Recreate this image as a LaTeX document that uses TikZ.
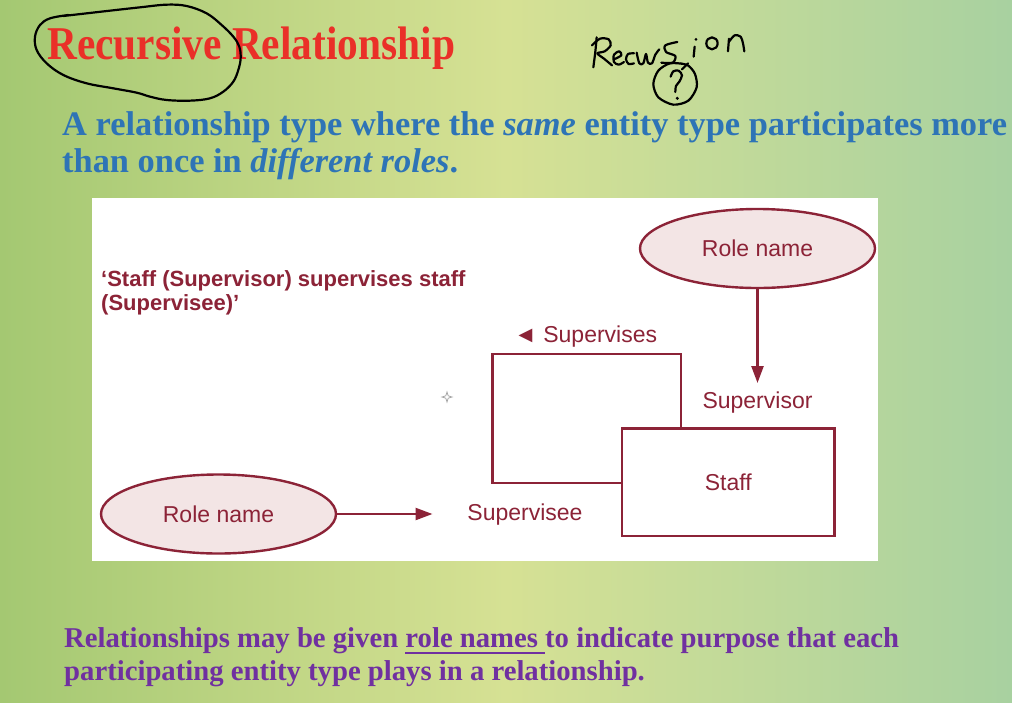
\documentclass[tikz,border=0pt]{standalone}
\usepackage{fontspec}
\setmainfont{Liberation Serif}
\newfontfamily\titlefont[FakeStretch=0.88]{Liberation Serif}
\newfontfamily\diagfont{Liberation Sans}
\usetikzlibrary{arrows.meta,shapes.geometric}

\definecolor{bgleft}{RGB}{164,200,114}
\definecolor{bgmid}{RGB}{214,225,148}
\definecolor{bgright}{RGB}{168,209,160}
\definecolor{titlered}{RGB}{234,48,40}
\definecolor{bodyblue}{RGB}{46,116,182}
\definecolor{notepurple}{RGB}{112,48,160}
\definecolor{erdred}{RGB}{140,35,55}
\definecolor{rolefill}{RGB}{243,229,229}

% underline drawn as a rule under the word box
\newcommand{\rolesline}[1]{\setbox0\hbox{#1}\rlap{\rule[-6.5pt]{\wd0}{2pt}}\box0}

\tikzset{
  txt/.style={inner sep=0pt, anchor=base west},
  ctxt/.style={inner sep=0pt, anchor=base, text=erdred, font=\diagfont\fontsize{23}{26}\selectfont},
  link/.style={draw=erdred, line width=2.4pt},
  flow/.style={link, -{Triangle[length=17pt,width=12pt]}},
  rolename/.style={ellipse, draw=erdred, fill=rolefill, line width=2.4pt, inner sep=0pt,
    minimum width=235pt, minimum height=79pt, text=erdred, font=\diagfont\fontsize{23}{26}\selectfont},
  entity/.style={rectangle, draw=erdred, fill=white, line width=2.4pt, inner sep=0pt,
    minimum width=212.6pt, minimum height=107.4pt, text=erdred, font=\diagfont\fontsize{23}{26}\selectfont},
  ink/.style={draw=black, line width=2.2pt, line cap=round, line join=round},
}

\begin{document}
\begin{tikzpicture}[x=1pt,y=-1pt]
\useasboundingbox (0,0) rectangle (1012,702);
% slide background
\shade[left color=bgleft, right color=bgright, middle color=bgmid] (0,0) rectangle (1012,702);

% title and definition
\node[txt, text=titlered, font={\titlefont\bfseries\fontsize{47}{50}\selectfont}] (title) at (47,59) {Recursive Relationship};
\node[txt, text=bodyblue, font={\bfseries\fontsize{34.4}{37}\selectfont}] (defA) at (62,135)
  {A relationship type where the \textit{same} entity type participates more};
\node[txt, text=bodyblue, font={\bfseries\fontsize{34.4}{37}\selectfont}] (defB) at (62,172)
  {than once in \textit{different roles}.};

% closing note
\node[txt, text=notepurple, font={\bfseries\fontsize{28.7}{32}\selectfont}] (noteA) at (64,647)
  {Relationships may be given \rolesline{role names~}to indicate purpose that each};
\node[txt, text=notepurple, font={\bfseries\fontsize{28.7}{32}\selectfont}] (noteB) at (64,680)
  {participating entity type plays in a relationship.};

% diagram panel
\fill[white] (92,198) rectangle (878,561);

\node[txt, text=erdred, font={\diagfont\bfseries\fontsize{22}{24}\selectfont}] (capA) at (101,286)
  {‘Staff (Supervisor) supervises staff};
\node[txt, text=erdred, font={\diagfont\bfseries\fontsize{22}{24}\selectfont}] (capB) at (101,310)
  {(Supervisee)’};

\node[rolename] (roleTop) at (757.5,248.5) {Role name};
\node[rolename] (roleLeft) at (218.5,514) {Role name};
\node[entity] (staff) at (728.3,482) {Staff};

\coordinate (supTip) at (757.5,383);
\coordinate (seeTip) at (432.5,514);
\coordinate (loopTR) at (681,354);
\coordinate (loopTL) at (492.5,354);
\coordinate (loopBL) at (492.5,483);

\draw[flow] (roleTop) -- (supTip);
\draw[flow] (roleLeft) -- (seeTip);
\draw[link] (loopTR |- staff.north) -- (loopTR) -- (loopTL) -- (loopBL) -- (loopBL -| staff.west);

\node[ctxt] (supervisor) at (757.5,408.5) {Supervisor};
\node[ctxt] (supervisee) at (525,520.7) {Supervisee};
\node[txt, text=erdred, font={\diagfont\fontsize{23}{26}\selectfont}] (supervises) at (514,342) {◄ Supervises};

% pointer sparkle
\draw[gray!70, line width=0.8pt] (447,392) -- (448.2,395.8) -- (452,397) -- (448.2,398.2) -- (447,402)
  -- (445.8,398.2) -- (442,397) -- (445.8,395.8) -- cycle;

% handwritten loop around the first word
\begin{scope}[scale=0.3333]
\draw[ink] plot[smooth, tension=0.6] coordinates {(190,48) (260,40) (330,32) (420,22) (500,14) (560,18)
  (620,40) (665,75) (700,110) (718,140) (722,175) (715,210) (700,245) (670,275) (630,295) (570,302)
  (500,300) (450,290) (410,278) (340,265) (260,250) (190,225) (140,190) (110,150) (105,110) (120,75)
  (150,55) (205,45)};
\end{scope}

% handwritten note "Recursion ?"
\begin{scope}[shift={(560,20)}, scale=0.3333]
% R
\draw[ink] plot[smooth] coordinates {(110,52) (106,95) (100,142)};
\draw[ink] plot[smooth] coordinates {(96,76) (120,56) (146,58) (152,76) (134,94) (112,100) (132,116) (156,136)};
% e
\draw[ink] plot[smooth] coordinates {(162,118) (184,106) (178,94) (162,104) (162,126) (176,134) (192,126)};
% c
\draw[ink] plot[smooth] coordinates {(222,100) (204,102) (198,118) (206,132) (222,130)};
% w
\draw[ink] plot[smooth] coordinates {(230,98) (238,130) (250,130) (258,102) (264,128) (276,130) (286,104) (298,88)};
% s
\draw[ink] plot[smooth] coordinates {(352,66) (316,76) (318,96) (346,108) (338,128) (304,128)};
% i
\draw[ink] (404,80) -- (401,110);
\fill (408,58) circle (4.5);
% o
\draw[ink] (456,70) ellipse [x radius=17, y radius=18];
% n
\draw[ink] (504,94) -- (507,56);
\draw[ink] plot[smooth] coordinates {(508,64) (524,46) (542,50) (549,70) (553,94)};
% circled question mark
\draw[ink] plot[smooth] coordinates {(372,132) (330,130) (295,152) (280,192) (295,232) (340,254) (385,242)
  (410,202) (405,162) (385,137) (360,130)};
\draw[ink] (366,148) -- (384,130);
\draw[ink] plot[smooth] coordinates {(332,170) (340,154) (356,152) (366,166) (358,185) (348,198) (346,216)};
\fill (352,235) circle (5);
\end{scope}
\end{tikzpicture}
\end{document}
